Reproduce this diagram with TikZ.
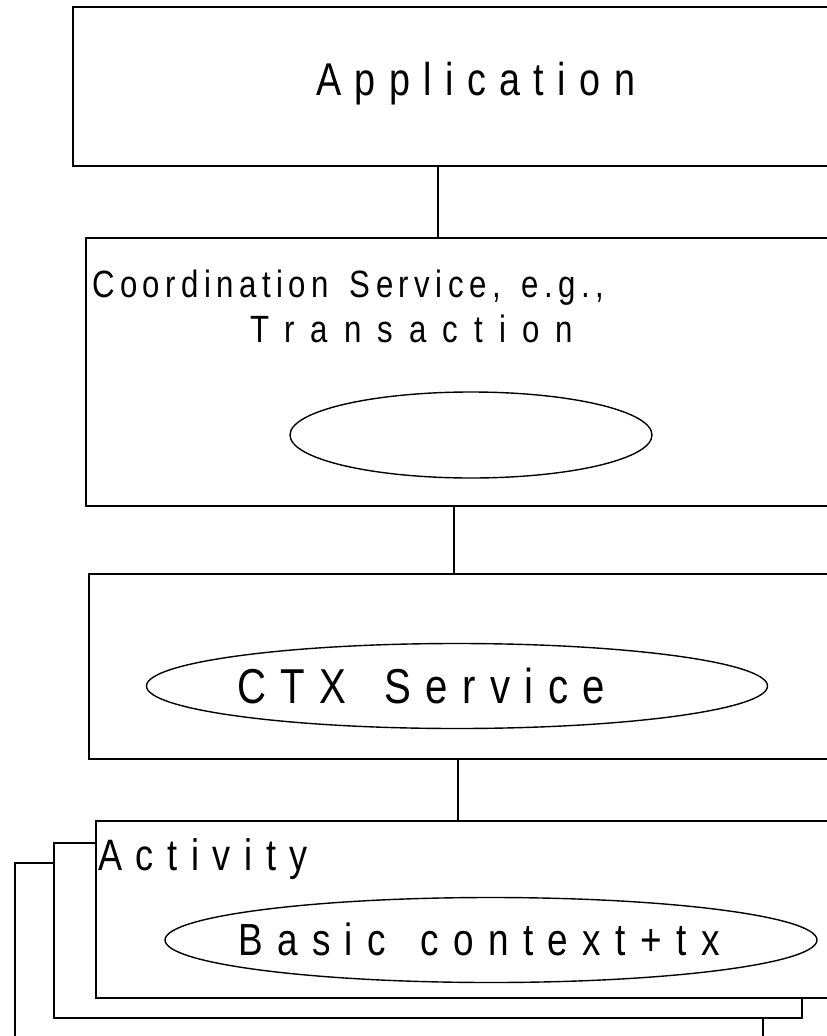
\documentclass[tikz,border=0pt]{standalone}
\usepackage{fontspec}
\setmainfont{Liberation Sans}[FakeStretch=0.82]
\usetikzlibrary{shapes.geometric}

% size, letter spacing, word spacing
\newcommand{\spaced}[3]{\fontsize{#1}{#1}\selectfont\addfontfeatures{LetterSpace=#2}\spaceskip=#3em\relax}

\begin{document}
\begin{tikzpicture}[x=1pt,y=-1pt,
  layer/.style={draw, line width=1.8pt, rectangle, anchor=north west,
                inner sep=0pt, fill=white},
  oval/.style={draw, line width=1.4pt, ellipse, inner sep=0pt},
  lbl/.style={anchor=base west, inner sep=0pt},
  link/.style={line width=1.8pt}]
\useasboundingbox (0,0) rectangle (827,1036);
\clip (0,0) rectangle (827,1036);

% application layer
\node[layer, minimum width=800pt, minimum height=159pt] (app) at (72,6) {};
\node[lbl] (apptxt) at (316,95) {\spaced{46}{29.2}{0.5}Application};

% coordination service layer
\node[layer, minimum width=800pt, minimum height=268pt] (coord) at (85,237) {};
\node[lbl] (coordtxt1) at (92,297) {\spaced{38}{14.4}{0.55}Coordination Service, e.g.,};
\node[lbl] (coordtxt2) at (250,342) {\spaced{38}{42.5}{0.5}Transaction};
\node[oval, minimum width=362pt, minimum height=86pt] (coordoval) at (471,435) {};

% context service layer
\node[layer, minimum width=800pt, minimum height=185pt] (ctx) at (88,573) {};
\node[oval, minimum width=621pt, minimum height=85pt] (ctxoval) at (457,686) {};
\node[lbl] (ctxtxt) at (237,703) {\spaced{49}{29.6}{0.77}CTX Service};

% stacked activity layers, back to front
\node[layer, minimum width=748pt, minimum height=220pt] (act3) at (14,862) {};
\node[layer, minimum width=748pt, minimum height=175pt] (act2) at (53,842) {};
\node[layer, minimum width=800pt, minimum height=177pt] (act1) at (95,820) {};
\node[lbl] (acttxt) at (98,870) {\spaced{44}{31}{0.5}Activity};
\node[oval, minimum width=652pt, minimum height=85pt] (actoval) at (491,940) {};
\node[lbl] (acttxt2) at (238,955) {\spaced{45}{32}{0.77}Basic context+tx};

% connectors between layers
\path (app.south west) ++(366,0) coordinate (j1);
\draw[link] (j1) -- (j1 |- coord.north);
\path (coord.south west) ++(369,0) coordinate (j2);
\draw[link] (j2) -- (j2 |- ctx.north);
\path (ctx.south west) ++(370,0) coordinate (j3);
\draw[link] (j3) -- (j3 |- act1.north);
\end{tikzpicture}
\end{document}
